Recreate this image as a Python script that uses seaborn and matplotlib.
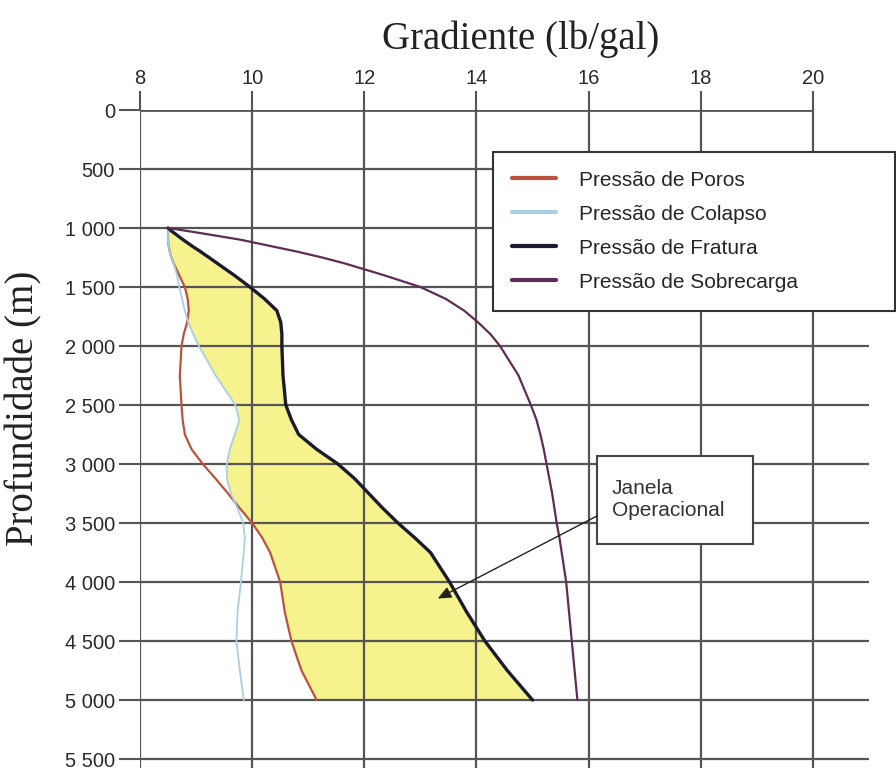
import numpy as np
import seaborn as sns
import matplotlib.pyplot as plt
from matplotlib.lines import Line2D
from matplotlib.patches import Rectangle

# profundidade (m) e gradientes (lb/gal)
depth = [1000, 1025, 1050, 1100, 1150, 1200, 1250, 1300, 1400, 1500,
         1600, 1700, 1800, 1900, 2000, 2250, 2500, 2625, 2750, 2875,
         3000, 3125, 3250, 3375, 3500, 3625, 3750, 4000, 4250, 4500,
         4750, 5000]
poros = [8.5, 8.5, 8.5, 8.5, 8.51, 8.53, 8.56, 8.6, 8.7, 8.8,
         8.85, 8.87, 8.84, 8.78, 8.74, 8.71, 8.74, 8.76, 8.8, 8.92,
         9.12, 9.35, 9.57, 9.78, 10.0, 10.18, 10.32, 10.5, 10.58, 10.7,
         10.88, 11.15]
colapso = [8.5, 8.5, 8.5, 8.5, 8.51, 8.53, 8.56, 8.6, 8.66, 8.7,
           8.75, 8.8, 8.86, 8.95, 9.05, 9.35, 9.7, 9.77, 9.69, 9.6,
           9.55, 9.55, 9.62, 9.74, 9.84, 9.87, 9.85, 9.8, 9.74, 9.72,
           9.78, 9.85]
fratura = [8.5, 8.56, 8.63, 8.77, 8.92, 9.08, 9.23, 9.38, 9.68, 9.96,
           10.22, 10.44, 10.51, 10.53, 10.53, 10.55, 10.6, 10.7, 10.83, 11.15,
           11.53, 11.83, 12.08, 12.33, 12.6, 12.9, 13.18, 13.52, 13.82, 14.15,
           14.55, 15.0]
sobrecarga = [8.5, 8.84, 9.17, 9.8, 10.3, 10.8, 11.25, 11.65, 12.35, 13.0,
              13.45, 13.78, 14.03, 14.25, 14.42, 14.75, 14.97, 15.07, 15.14, 15.2,
              15.25, 15.3, 15.35, 15.39, 15.43, 15.48, 15.52, 15.6, 15.65, 15.7,
              15.75, 15.8]

xticks = [8, 10, 12, 14, 16, 18, 20]
yticks = [0, 500, 1000, 1500, 2000, 2500, 3000, 3500, 4000, 4500, 5000, 5500]
ylabels = ["0", "500", "1 000", "1 500", "2 000", "2 500", "3 000",
           "3 500", "4 000", "4 500", "5 000", "5 500"]
names = ["Pressão de Poros", "Pressão de Colapso", "Pressão de Fratura", "Pressão de Sobrecarga"]
colors = ["#bd533c", "#a9cfe2", "#1a1a30", "#5e2c55"]
widths = [1.6, 1.3, 2.4, 1.6]

sns.set_style("white")
plt.rcParams['font.family'] = ['Liberation Sans', 'DejaVu Sans']

fig = plt.figure(figsize=(8.96, 7.74), dpi=100)
ax = fig.add_axes([140/896, 6/774, 729/896, 658/774])
ymax = 5576
ax.set_xlim(8, 21)
ax.set_ylim(ymax, 0)

# janela operacional
lower = np.maximum(poros, colapso)
ax.fill_betweenx(depth, lower, fratura, color="#f6f28e", lw=0, zorder=1)

grid_c = "#555555"
ax.vlines(xticks, 0, ymax, color=grid_c, lw=1.6, zorder=2)
ax.hlines(0, 8, 20, color=grid_c, lw=2.0, zorder=2)
ax.hlines(yticks[1:], 8, 21, color=grid_c, lw=1.6, zorder=2)

for vals, c, w in zip([poros, colapso, fratura, sobrecarga], colors, widths):
    sns.lineplot(x=vals, y=depth, sort=False, estimator=None, color=c, lw=w,
                 ax=ax, legend=False, zorder=3)

ax.xaxis.tick_top()
ax.set_xticks(xticks)
ax.set_yticks(yticks)
ax.set_yticklabels(ylabels)
ax.set_xlabel("")
ax.set_ylabel("")
for s in ax.spines.values():
    s.set_visible(False)
ax.tick_params(axis='x', top=True, bottom=False, length=14, width=1.5,
               color=grid_c, pad=2, labelsize=14.5, labelcolor="#2a2a2a")
ax.tick_params(axis='y', left=True, length=15, width=1.5,
               color=grid_c, pad=3, labelsize=14.5, labelcolor="#2a2a2a")

fig.text(521/896, 1 - 39/774, "Gradiente (lb/gal)", family="Liberation Serif",
         fontsize=28, ha="center", va="center", color="#222222")
fig.text(24/896, 1 - 408/774, "Profundidade (m)", family="Liberation Serif",
         fontsize=28, ha="center", va="center", rotation=90, color="#222222")

handles = [Line2D([], [], color=c, lw=3) for c in colors]
leg = ax.legend(handles, names, loc="upper left", mode="expand",
                bbox_to_anchor=(493/896, 1 - 312/774, 402/896, 160/774),
                bbox_transform=fig.transFigure, borderaxespad=0,
                fontsize=15, frameon=True, fancybox=False, borderpad=0.9,
                labelspacing=0.72, handlelength=2.1, handletextpad=1.15)
leg.get_frame().set_edgecolor("#333333")
leg.get_frame().set_linewidth(1.5)
leg.get_frame().set_alpha(1)
leg.set_zorder(5)

ax.add_patch(Rectangle((16.15, 2934), 2.78, 742, facecolor="white",
                       edgecolor="#444444", lw=1.5, zorder=4))
ax.text(16.41, 3300, "Janela\nOperacional", fontsize=15, ha="left", va="center",
        color="#333333", linespacing=1.15, zorder=5)
ax.annotate("", xy=(13.31, 4140), xytext=(16.15, 3440),
            arrowprops=dict(arrowstyle="-|>,head_length=0.8,head_width=0.35",
                            color="#222222", lw=1.0, shrinkA=0, shrinkB=0),
            zorder=4)

fig.savefig("out.png", dpi=100)
